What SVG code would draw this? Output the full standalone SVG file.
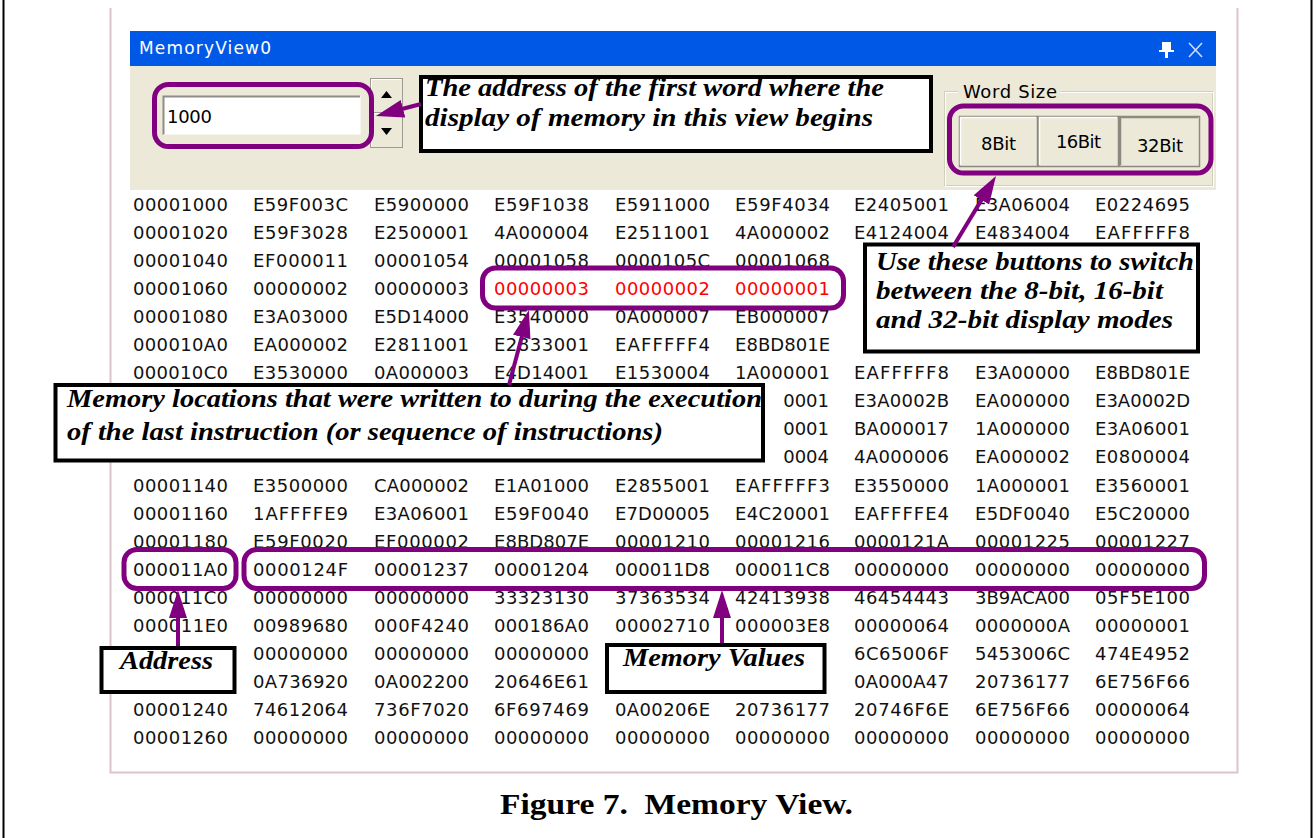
<svg xmlns="http://www.w3.org/2000/svg" width="1316" height="838" viewBox="0 0 1316 838">
<style>
.m{font-family:"DejaVu Sans","Liberation Sans",sans-serif;font-size:18px;fill:#111}
.hot{fill:#ff0000}
.ui{font-family:"DejaVu Sans","Liberation Sans",sans-serif;font-size:18px;fill:#000}
.note{font-family:"Liberation Serif","DejaVu Serif",serif;font-style:italic;font-weight:bold;font-size:25px;fill:#000}
.cap{font-family:"Liberation Serif","DejaVu Serif",serif;font-weight:bold;font-size:30px;fill:#000;white-space:pre}
.box{fill:#fff;stroke:#000;stroke-width:4}
.ring{fill:none;stroke:#800080;stroke-width:5}
.arr{fill:none;stroke:#800080;stroke-width:4;marker-end:url(#head)}
.btn{fill:#ECE9D8;stroke:#8a8a80;stroke-width:1.5}
</style>
<defs>
<marker id="head" markerUnits="userSpaceOnUse" markerWidth="30" markerHeight="20" refX="8" refY="9" orient="auto">
<path d="M0,0 L28,9 L0,18 z" fill="#800080"/>
</marker>
</defs>

<!-- page background and side rules -->
<rect width="1316" height="838" fill="#fff"/>
<line x1="3.5" y1="0" x2="3.5" y2="838" stroke="#000" stroke-width="2"/>
<line x1="1311.5" y1="0" x2="1311.5" y2="838" stroke="#000" stroke-width="2"/>

<!-- memory view window -->
<g id="window">
<path d="M110.5,8 V772.5 H1237.5 V8" fill="none" stroke="#DCC4CC" stroke-width="2"/>
<rect x="130" y="31" width="1086" height="35" fill="#0058E6"/>
<text x="139" y="54" font-family="DejaVu Sans,Liberation Sans,sans-serif" font-size="17" fill="#fff" textLength="132">MemoryView0</text>
<!-- pin -->
<g fill="#fff">
<rect x="1162" y="42" width="9" height="9"/>
<rect x="1159" y="50" width="15" height="2"/>
<rect x="1165" y="52" width="3" height="6"/>
</g>
<path d="M1189,43 L1202,57 M1202,43 L1189,57" stroke="#cfdcff" stroke-width="1.6"/>
<rect x="130" y="66" width="1086" height="124" fill="#ECE9D8"/>
</g>

<!-- address entry with spin buttons -->
<g id="address-entry">
<rect x="163" y="96" width="197" height="39" fill="#fff"/>
<path d="M163.5,135 V96.5 H360" fill="none" stroke="#8e8e86" stroke-width="2"/>
<path d="M163.5,134.5 H360.5 V96" fill="none" stroke="#f6f5ee" stroke-width="1"/>
<text class="ui" x="167" y="123" textLength="45">1000</text>
<rect x="370.5" y="78.5" width="32" height="34" fill="#ECE9D8" stroke="#9c9b90"/>
<rect x="370.5" y="112.5" width="32" height="35" fill="#ECE9D8" stroke="#9c9b90"/>
<path d="M371.5,111 V79.5 H401" fill="none" stroke="#fff"/>
<path d="M371.5,146 V113.5 H401" fill="none" stroke="#fff"/>
<path d="M381,98 L386.5,91 L392,98 z" fill="#000"/>
<path d="M381,128 L392,128 L386.5,135 z" fill="#000"/>
</g>

<!-- word size selector -->
<g id="word-size">
<rect x="944.5" y="91.5" width="268" height="94" fill="none" stroke="#D0D0BF"/>
<rect x="945.5" y="92.5" width="268" height="94" fill="none" stroke="#fff"/>
<rect x="958" y="84" width="102" height="16" fill="#ECE9D8"/>
<text class="ui" x="963" y="98" textLength="94">Word Size</text>
<rect class="btn" x="959.5" y="116.5" width="78" height="50"/>
<path d="M960.5,165 V117.5 H1036" fill="none" stroke="#fff" stroke-width="1.5"/>
<rect class="btn" x="1038.5" y="116.5" width="80" height="50"/>
<path d="M1039.5,165 V117.5 H1117" fill="none" stroke="#fff" stroke-width="1.5"/>
<rect class="btn" x="1119.5" y="116.5" width="80" height="50"/>
<path d="M1120.5,165 V117.5 H1198" fill="none" stroke="#8a8a80" stroke-width="1.5"/>
<text class="ui" x="981" y="150" textLength="35">8Bit</text>
<text class="ui" x="1056" y="148" textLength="45">16Bit</text>
<text class="ui" x="1137" y="152" textLength="46">32Bit</text>
</g>

<!-- memory dump: address column followed by eight words per row -->
<g id="memory-table" class="m">
<text x="133" y="211" textLength="95">00001000</text><text x="253" y="211" textLength="95">E59F003C</text><text x="374" y="211" textLength="95">E5900000</text><text x="494" y="211" textLength="95">E59F1038</text><text x="615" y="211" textLength="95">E5911000</text><text x="735" y="211" textLength="95">E59F4034</text><text x="854" y="211" textLength="95">E2405001</text><text x="975" y="211" textLength="95">E3A06004</text><text x="1095" y="211" textLength="95">E0224695</text>
<text x="133" y="239" textLength="95">00001020</text><text x="253" y="239" textLength="95">E59F3028</text><text x="374" y="239" textLength="95">E2500001</text><text x="494" y="239" textLength="95">4A000004</text><text x="615" y="239" textLength="95">E2511001</text><text x="735" y="239" textLength="95">4A000002</text><text x="854" y="239" textLength="95">E4124004</text><text x="975" y="239" textLength="95">E4834004</text><text x="1095" y="239" textLength="95">EAFFFFF8</text>
<text x="133" y="267" textLength="95">00001040</text><text x="253" y="267" textLength="95">EF000011</text><text x="374" y="267" textLength="95">00001054</text><text x="494" y="267" textLength="95">00001058</text><text x="615" y="267" textLength="95">0000105C</text><text x="735" y="267" textLength="95">00001068</text>
<text x="133" y="295" textLength="95">00001060</text><text x="253" y="295" textLength="95">00000002</text><text x="374" y="295" textLength="95">00000003</text><text class="hot" x="494" y="295" textLength="95">00000003</text><text class="hot" x="615" y="295" textLength="95">00000002</text><text class="hot" x="735" y="295" textLength="95">00000001</text>
<text x="133" y="323" textLength="95">00001080</text><text x="253" y="323" textLength="95">E3A03000</text><text x="374" y="323" textLength="95">E5D14000</text><text x="494" y="323" textLength="95">E3540000</text><text x="615" y="323" textLength="95">0A000007</text><text x="735" y="323" textLength="95">EB000007</text>
<text x="133" y="351" textLength="95">000010A0</text><text x="253" y="351" textLength="95">EA000002</text><text x="374" y="351" textLength="95">E2811001</text><text x="494" y="351" textLength="95">E2833001</text><text x="615" y="351" textLength="95">EAFFFFF4</text><text x="735" y="351" textLength="95">E8BD801E</text>
<text x="133" y="379" textLength="95">000010C0</text><text x="253" y="379" textLength="95">E3530000</text><text x="374" y="379" textLength="95">0A000003</text><text x="494" y="379" textLength="95">E4D14001</text><text x="615" y="379" textLength="95">E1530004</text><text x="735" y="379" textLength="95">1A000001</text><text x="854" y="379" textLength="95">EAFFFFF8</text><text x="975" y="379" textLength="95">E3A00000</text><text x="1095" y="379" textLength="95">E8BD801E</text>
<text x="829" y="407" text-anchor="end">0001</text><text x="854" y="407" textLength="95">E3A0002B</text><text x="975" y="407" textLength="95">EA000000</text><text x="1095" y="407" textLength="95">E3A0002D</text>
<text x="829" y="435" text-anchor="end">0001</text><text x="854" y="435" textLength="95">BA000017</text><text x="975" y="435" textLength="95">1A000000</text><text x="1095" y="435" textLength="95">E3A06001</text>
<text x="829" y="463" text-anchor="end">0004</text><text x="854" y="463" textLength="95">4A000006</text><text x="975" y="463" textLength="95">EA000002</text><text x="1095" y="463" textLength="95">E0800004</text>
<text x="133" y="492" textLength="95">00001140</text><text x="253" y="492" textLength="95">E3500000</text><text x="374" y="492" textLength="95">CA000002</text><text x="494" y="492" textLength="95">E1A01000</text><text x="615" y="492" textLength="95">E2855001</text><text x="735" y="492" textLength="95">EAFFFFF3</text><text x="854" y="492" textLength="95">E3550000</text><text x="975" y="492" textLength="95">1A000001</text><text x="1095" y="492" textLength="95">E3560001</text>
<text x="133" y="520" textLength="95">00001160</text><text x="253" y="520" textLength="95">1AFFFFE9</text><text x="374" y="520" textLength="95">E3A06001</text><text x="494" y="520" textLength="95">E59F0040</text><text x="615" y="520" textLength="95">E7D00005</text><text x="735" y="520" textLength="95">E4C20001</text><text x="854" y="520" textLength="95">EAFFFFE4</text><text x="975" y="520" textLength="95">E5DF0040</text><text x="1095" y="520" textLength="95">E5C20000</text>
<text x="133" y="548" textLength="95">00001180</text><text x="253" y="548" textLength="95">E59F0020</text><text x="374" y="548" textLength="95">EF000002</text><text x="494" y="548" textLength="95">E8BD807E</text><text x="615" y="548" textLength="95">00001210</text><text x="735" y="548" textLength="95">00001216</text><text x="854" y="548" textLength="95">0000121A</text><text x="975" y="548" textLength="95">00001225</text><text x="1095" y="548" textLength="95">00001227</text>
<text x="133" y="576" textLength="95">000011A0</text><text x="253" y="576" textLength="95">0000124F</text><text x="374" y="576" textLength="95">00001237</text><text x="494" y="576" textLength="95">00001204</text><text x="615" y="576" textLength="95">000011D8</text><text x="735" y="576" textLength="95">000011C8</text><text x="854" y="576" textLength="95">00000000</text><text x="975" y="576" textLength="95">00000000</text><text x="1095" y="576" textLength="95">00000000</text>
<text x="133" y="604" textLength="95">000011C0</text><text x="253" y="604" textLength="95">00000000</text><text x="374" y="604" textLength="95">00000000</text><text x="494" y="604" textLength="95">33323130</text><text x="615" y="604" textLength="95">37363534</text><text x="735" y="604" textLength="95">42413938</text><text x="854" y="604" textLength="95">46454443</text><text x="975" y="604" textLength="95">3B9ACA00</text><text x="1095" y="604" textLength="95">05F5E100</text>
<text x="133" y="632" textLength="95">000011E0</text><text x="253" y="632" textLength="95">00989680</text><text x="374" y="632" textLength="95">000F4240</text><text x="494" y="632" textLength="95">000186A0</text><text x="615" y="632" textLength="95">00002710</text><text x="735" y="632" textLength="95">000003E8</text><text x="854" y="632" textLength="95">00000064</text><text x="975" y="632" textLength="95">0000000A</text><text x="1095" y="632" textLength="95">00000001</text>
<text x="253" y="660" textLength="95">00000000</text><text x="374" y="660" textLength="95">00000000</text><text x="494" y="660" textLength="95">00000000</text><text x="854" y="660" textLength="95">6C65006F</text><text x="975" y="660" textLength="95">5453006C</text><text x="1095" y="660" textLength="95">474E4952</text>
<text x="253" y="688" textLength="95">0A736920</text><text x="374" y="688" textLength="95">0A002200</text><text x="494" y="688" textLength="95">20646E61</text><text x="854" y="688" textLength="95">0A000A47</text><text x="975" y="688" textLength="95">20736177</text><text x="1095" y="688" textLength="95">6E756F66</text>
<text x="133" y="716" textLength="95">00001240</text><text x="253" y="716" textLength="95">74612064</text><text x="374" y="716" textLength="95">736F7020</text><text x="494" y="716" textLength="95">6F697469</text><text x="615" y="716" textLength="95">0A00206E</text><text x="735" y="716" textLength="95">20736177</text><text x="854" y="716" textLength="95">20746F6E</text><text x="975" y="716" textLength="95">6E756F66</text><text x="1095" y="716" textLength="95">00000064</text>
<text x="133" y="744" textLength="95">00001260</text><text x="253" y="744" textLength="95">00000000</text><text x="374" y="744" textLength="95">00000000</text><text x="494" y="744" textLength="95">00000000</text><text x="615" y="744" textLength="95">00000000</text><text x="735" y="744" textLength="95">00000000</text><text x="854" y="744" textLength="95">00000000</text><text x="975" y="744" textLength="95">00000000</text><text x="1095" y="744" textLength="95">00000000</text>
</g>

<!-- highlight rings -->
<g id="rings">
<rect id="ring-address-entry" class="ring" x="154.5" y="84.5" width="217" height="62" rx="14"/>
<rect id="ring-word-size" class="ring" x="949.5" y="106" width="261.5" height="67" rx="14"/>
<rect id="ring-written" class="ring" x="482.5" y="268" width="361" height="40" rx="13"/>
<rect id="ring-row-address" class="ring" x="124" y="549.5" width="112" height="39" rx="13"/>
<rect id="ring-row-values" class="ring" x="244" y="549.5" width="960.5" height="39" rx="13"/>
</g>

<!-- annotation boxes -->
<g id="note-start-address">
<rect class="box" x="421" y="77" width="510" height="74"/>
<text class="note" x="425" y="96" textLength="459" lengthAdjust="spacingAndGlyphs">The address of the first word where the</text>
<text class="note" x="425" y="126" textLength="448" lengthAdjust="spacingAndGlyphs">display of memory in this view begins</text>
</g>
<g id="note-word-size">
<rect class="box" x="865" y="244.5" width="333" height="107"/>
<text class="note" x="876" y="270" textLength="318" lengthAdjust="spacingAndGlyphs">Use these buttons to switch</text>
<text class="note" x="876" y="299" textLength="287" lengthAdjust="spacingAndGlyphs">between the 8-bit, 16-bit</text>
<text class="note" x="876" y="328" textLength="297" lengthAdjust="spacingAndGlyphs">and 32-bit display modes</text>
</g>
<g id="note-written">
<rect class="box" x="55.5" y="385" width="707.5" height="75.5"/>
<text class="note" x="67" y="407" textLength="695" lengthAdjust="spacingAndGlyphs">Memory locations that were written to during the execution</text>
<text class="note" x="67" y="440" textLength="596" lengthAdjust="spacingAndGlyphs">of the last instruction (or sequence of instructions)</text>
</g>
<g id="note-address">
<rect class="box" x="101.5" y="648" width="133" height="44"/>
<text class="note" x="120" y="669" textLength="93" lengthAdjust="spacingAndGlyphs">Address</text>
</g>
<g id="note-values">
<rect class="box" x="607" y="645" width="217.5" height="47"/>
<text class="note" x="623" y="666" textLength="182" lengthAdjust="spacingAndGlyphs">Memory Values</text>
</g>

<!-- connectors -->
<g id="connectors">
<path class="arr" d="M421,104 L395.3,110.8"/>
<path class="arr" d="M953,247 L985.6,193.1"/>
<path class="arr" d="M509,385 L523.8,329.3"/>
<path class="arr" d="M178,646 L178,610"/>
<path class="arr" d="M722,643 L722,610"/>
</g>

<text class="cap" x="500" y="814" textLength="353" lengthAdjust="spacingAndGlyphs">Figure 7.  Memory View.</text>
</svg>
